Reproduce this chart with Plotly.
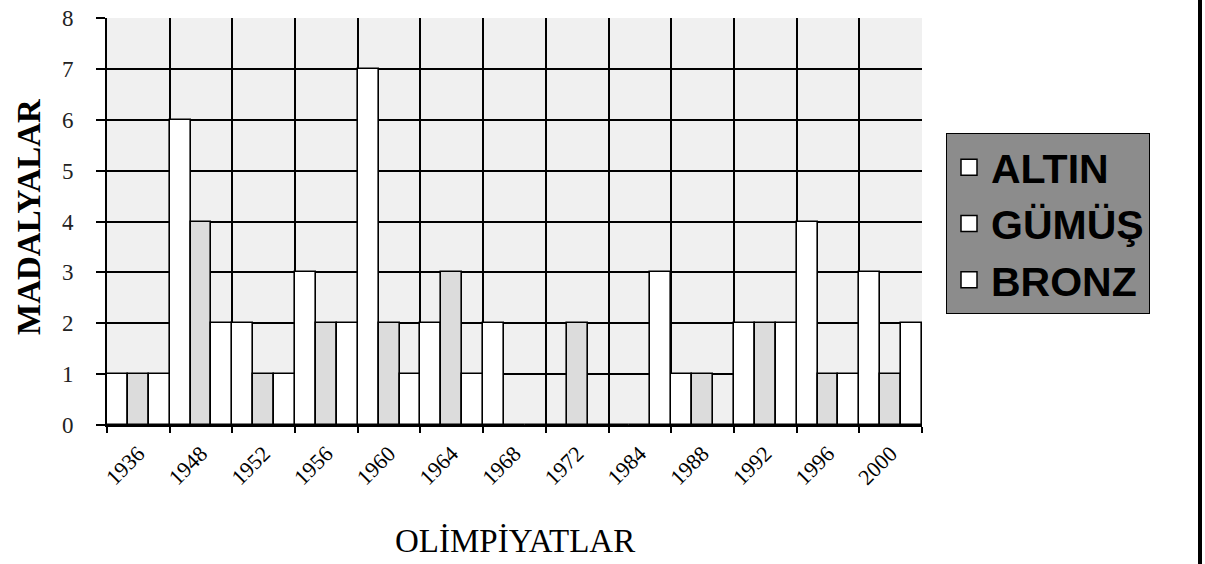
import plotly.graph_objects as go

years = ["1936", "1948", "1952", "1956", "1960", "1964", "1968",
         "1972", "1984", "1988", "1992", "1996", "2000"]
altin = [1, 6, 2, 3, 7, 2, 2, 0, 0, 1, 2, 4, 3]
gumus = [1, 4, 1, 2, 2, 3, 0, 2, 0, 1, 2, 1, 1]
bronz = [1, 2, 1, 2, 1, 1, 0, 0, 3, 0, 2, 1, 2]
series_names = ["ALTIN", "GÜMÜŞ", "BRONZ"]
series_fill = ["#ffffff", "#dcdcdc", "#ffffff"]
yticks = [0, 1, 2, 3, 4, 5, 6, 7, 8]

W, H = 1205, 564
X0, X1, Y0, Y1 = 107, 922, 18, 425  # plot area in page px
ML, MR, MT, MB = X0, W - X1, Y0, H - Y1
PW, PH = X1 - X0, Y1 - Y0


def px(x):
    return (x - X0) / PW


def py(y):
    return (Y1 - y) / PH


xpos = list(range(len(years)))
bounds = [i - 0.5 for i in range(len(years) + 1)]

fig = go.Figure()
for name, vals, col in zip(series_names, [altin, gumus, bronz], series_fill):
    fig.add_trace(go.Bar(
        x=xpos, y=vals, name=name, showlegend=False,
        marker=dict(color=col, line=dict(color="black", width=1.6)),
    ))
# legend entries
for name, col in zip(series_names, series_fill):
    fig.add_trace(go.Scatter(
        x=[None], y=[None], mode="markers", name=name,
        marker=dict(symbol="square", size=24, color="#ffffff",
                    line=dict(color="black", width=1.5)),
    ))

fig.update_layout(
    width=W, height=H,
    margin=dict(l=ML, r=MR, t=MT, b=MB, autoexpand=False),
    paper_bgcolor="white",
    plot_bgcolor="#f0f0f0",
    barmode="group", bargap=0, bargroupgap=0,
    showlegend=True,
    legend=dict(
        x=px(946), y=py(133), xanchor="left", yanchor="top",
        bgcolor="#8c8c8c", bordercolor="black", borderwidth=1,
        font=dict(family="Liberation Sans", size=41, color="black", weight="bold"),
        itemsizing="trace", tracegroupgap=0, itemwidth=34,
    ),
    xaxis=dict(
        range=[-0.5, len(years) - 0.5], automargin=False,
        tickmode="array", tickvals=xpos, ticktext=years,
        tickangle=-45, ticks="", showgrid=False, zeroline=False,
        ticklabelstandoff=5,
        tickfont=dict(family="Liberation Serif", size=22, color="black"),
        showline=True, linecolor="black", linewidth=2,
        minor=dict(tickmode="array", tickvals=bounds, ticks="outside",
                   ticklen=6, tickcolor="black", tickwidth=1.5,
                   showgrid=True, gridcolor="black", gridwidth=2),
    ),
    yaxis=dict(
        range=[0, 8], tickmode="array", tickvals=yticks, automargin=False,
        ticks="outside", ticklen=9, tickcolor="black", tickwidth=1.5,
        ticklabelstandoff=18, ticklabeloverflow="allow",
        showgrid=False, zeroline=False,
        showline=True, linecolor="black", linewidth=2,
        tickfont=dict(family="Liberation Serif", size=23, color="#222222"),
        minor=dict(tickmode="array", tickvals=yticks[1:-1], showgrid=True,
                   gridcolor="black", gridwidth=2),
    ),
    annotations=[
        dict(text="MADALYALAR", xref="paper", yref="paper",
             x=px(29), y=py(217), textangle=-90,
             showarrow=False, xanchor="center", yanchor="middle",
             font=dict(family="Liberation Serif", size=33, color="black", weight="bold")),
        dict(text="OLİMPİYATLAR", xref="paper", yref="paper",
             x=px(515), y=py(541),
             showarrow=False, xanchor="center", yanchor="middle",
             font=dict(family="Liberation Serif", size=33, color="black")),
    ],
    shapes=[
        dict(type="line", xref="paper", yref="paper",
             x0=px(1200), x1=px(1200), y0=py(564), y1=py(0),
             line=dict(color="black", width=4)),
    ],
)

fig.write_html(
    "out.html",
    config={"displayModeBar": False},
    post_script="document.body.style.margin='0';document.body.style.overflow='hidden';",
)
